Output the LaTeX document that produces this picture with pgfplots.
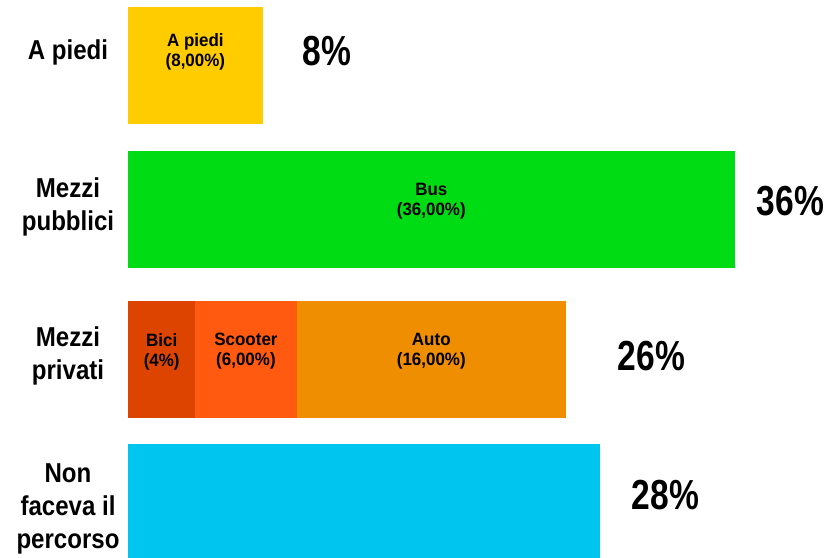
\documentclass[border=0pt]{standalone}
\usepackage{pgfplots}
\pgfplotsset{compat=1.18}
\usepackage{fontspec}
\setmainfont{Liberation Sans}
\newfontfamily\condfont[FakeStretch=0.8]{Liberation Sans}
\newfontfamily\semifont[FakeStretch=0.88]{Liberation Sans}
\newfontfamily\infont[FakeStretch=0.95]{Liberation Sans}
\definecolor{cPiedi}{RGB}{255,204,0}
\definecolor{cBus}{RGB}{0,220,20}
\definecolor{cBici}{RGB}{221,68,0}
\definecolor{cScooter}{RGB}{255,90,16}
\definecolor{cAuto}{RGB}{238,142,0}
\definecolor{cNon}{RGB}{0,197,239}
\tikzset{
  catlab/.style={font=\fontsize{20.5pt}{24.75pt}\selectfont\semifont\bfseries, align=center},
  inlab/.style={font=\fontsize{13.4pt}{15pt}\selectfont\infont\bfseries, align=center},
  pctlab/.style={font=\fontsize{31.5pt}{34pt}\selectfont\condfont\bfseries, anchor=west},
}
\begin{document}
\begin{tikzpicture}
\begin{axis}[
  scale only axis, width=627.75pt, height=417.75pt,
  xmin=-7.596, xmax=42.077, ymin=0, ymax=557, y dir=reverse,
  axis lines=none, xbar stacked, bar width=117,
  clip=true,
]
\addplot[fill=cPiedi, draw=none] coordinates {(8,65) (0,209.5) (0,359) (0,502.5)};
\addplot[fill=cBus, draw=none] coordinates {(0,65) (36,209.5) (0,359) (0,502.5)};
\addplot[fill=cBici, draw=none] coordinates {(0,65) (0,209.5) (4,359) (0,502.5)};
\addplot[fill=cScooter, draw=none] coordinates {(0,65) (0,209.5) (6,359) (0,502.5)};
\addplot[fill=cAuto, draw=none] coordinates {(0,65) (0,209.5) (16,359) (0,502.5)};
\addplot[fill=cNon, draw=none] coordinates {(0,65) (0,209.5) (0,359) (28,502.5)};
\coordinate (c1) at (axis cs:-3.56,52);
\coordinate (c2) at (axis cs:-3.56,207);
\coordinate (c3) at (axis cs:-3.56,356);
\coordinate (c4) at (axis cs:-3.56,509);
\coordinate (i1) at (axis cs:4,51.5);
\coordinate (i2) at (axis cs:18,201.5);
\coordinate (i3) at (axis cs:2,351.5);
\coordinate (i4) at (axis cs:7,351.5);
\coordinate (i5) at (axis cs:18,351.5);
\coordinate (p1) at (axis cs:10.09,51);
\coordinate (p2) at (axis cs:37.03,201);
\coordinate (p3) at (axis cs:28.78,356);
\coordinate (p4) at (axis cs:29.61,495);
\end{axis}
% category labels
\node[catlab] at (c1) {A piedi};
\node[catlab] at (c2) {Mezzi\\pubblici};
\node[catlab] at (c3) {Mezzi\\privati};
\node[catlab] at (c4) {Non\\faceva il\\percorso};
% in-bar labels
\node[inlab] at (i1) {A piedi\\(8,00\%)};
\node[inlab] at (i2) {Bus\\(36,00\%)};
\node[inlab] at (i3) {Bici\\(4\%)};
\node[inlab] at (i4) {Scooter\\(6,00\%)};
\node[inlab] at (i5) {Auto\\(16,00\%)};
% totals
\node[pctlab] at (p1) {8\%};
\node[pctlab] at (p2) {36\%};
\node[pctlab] at (p3) {26\%};
\node[pctlab] at (p4) {28\%};
\pgfresetboundingbox
\path (current axis.south west) rectangle (current axis.north east);
\end{tikzpicture}
\end{document}
